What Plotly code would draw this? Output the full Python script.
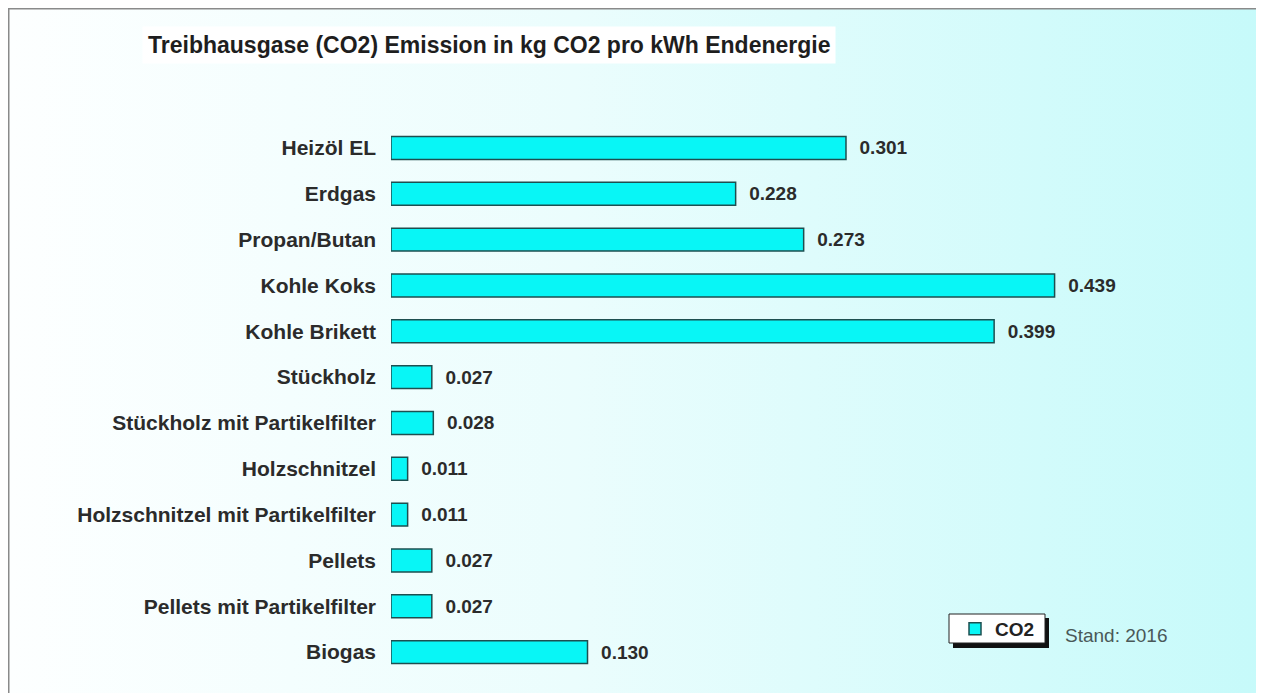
import base64
import plotly.graph_objects as go

# ---- data ----
categories = ["Heizöl EL", "Erdgas", "Propan/Butan", "Kohle Koks", "Kohle Brikett",
              "Stückholz", "Stückholz mit Partikelfilter", "Holzschnitzel",
              "Holzschnitzel mit Partikelfilter", "Pellets",
              "Pellets mit Partikelfilter", "Biogas"]
co2_values = [0.301, 0.228, 0.273, 0.439, 0.399, 0.027, 0.028, 0.011, 0.011,
              0.027, 0.027, 0.130]
series_name = "CO2"
title_text = "Treibhausgase (CO2) Emission in kg CO2 pro kWh Endenergie"
note_text = "Stand: 2016"

# ---- layout geometry (figure pixels; page body adds an 8px offset) ----
OFF = 8
W, H = 1290, 700
L, T = 383, 117
PW, PH = 809, 550
R = W - L - PW
B = H - T - PH
XMAX = PW / 1511.6


def px(sx):
    return (sx - OFF - L) / PW


def py(sy):
    return (H - B - (sy - OFF)) / PH


svg = ('<svg xmlns="http://www.w3.org/2000/svg" width="400" height="200" '
       'preserveAspectRatio="none">'
       '<defs><linearGradient id="g" x1="0" y1="0" x2="1" y2="0">'
       '<stop offset="0" stop-color="#fdffff"/>'
       '<stop offset="0.45" stop-color="#ebfdfd"/>'
       '<stop offset="1" stop-color="#c6fafa"/>'
       '</linearGradient></defs>'
       '<rect width="400" height="200" fill="url(#g)"/></svg>')
svg_uri = "data:image/svg+xml;base64," + base64.b64encode(svg.encode()).decode()

nb = "\u00a0\u00a0"
fig = go.Figure()
fig.add_trace(go.Bar(
    y=categories, x=co2_values, orientation="h", name=series_name,
    marker=dict(color="#08f6f6", line=dict(color="#1d4f50", width=1.5)),
    text=[nb + f"{v:.3f}" for v in co2_values], textposition="outside",
    cliponaxis=False,
    textfont=dict(family="Arial", size=19, color="#2b2b2b", weight="bold"),
    showlegend=True,
))

fig.update_layout(
    width=W, height=H,
    margin=dict(l=L, r=R, t=T, b=B, autoexpand=False),
    paper_bgcolor="white", plot_bgcolor="rgba(0,0,0,0)",
    bargap=0.5,
    xaxis=dict(range=[0, XMAX], visible=False, fixedrange=True),
    yaxis=dict(categoryorder="array", categoryarray=categories,
               range=[len(categories) - 0.5, -0.5], showgrid=False,
               showline=False, zeroline=False, ticks="",
               ticklabelstandoff=14,
               tickfont=dict(family="Arial", size=21, color="#2b2b2b",
                             weight="bold")),
    showlegend=True,
    legend=dict(x=px(955), y=py(610), xanchor="left", yanchor="top",
                bgcolor="rgba(0,0,0,0)", borderwidth=0,
                font=dict(family="Arial", size=19, color="#222",
                          weight="bold")),
    images=[dict(source=svg_uri, xref="paper", yref="paper",
                 x=px(OFF), y=py(OFF), sizex=(1264 - OFF) / PW,
                 sizey=H / PH,
                 xanchor="left", yanchor="top", sizing="stretch",
                 layer="below")],
    shapes=[
        dict(type="rect", xref="paper", yref="paper", x0=px(OFF + 0.5),
             x1=px(OFF + W + 10), y0=py(OFF + 0.5), y1=py(OFF + H + 10),
             line=dict(color="#8a8a8a", width=2), layer="above"),
        dict(type="rect", xref="paper", yref="paper", x0=px(953), x1=px(1049),
             y0=py(618), y1=py(648), fillcolor="#111", line=dict(width=0),
             layer="above"),
        dict(type="rect", xref="paper", yref="paper", x0=px(949), x1=px(1045),
             y0=py(614), y1=py(643), fillcolor="white",
             line=dict(color="#222", width=1), layer="above"),
    ],
    annotations=[
        dict(text=title_text, xref="paper", yref="paper", x=px(489), y=py(45),
             xanchor="center", yanchor="middle", showarrow=False,
             bgcolor="white", borderpad=5,
             font=dict(family="Arial", size=23, color="#1e1e1e",
                       weight="bold")),
        dict(text=note_text, xref="paper", yref="paper", x=px(1063), y=py(635),
             xanchor="left", yanchor="middle", showarrow=False,
             font=dict(family="Arial", size=19, color="#4a5858")),
    ],
)

fig.write_html("out.html",
               post_script="document.body.style.overflow='hidden';")
